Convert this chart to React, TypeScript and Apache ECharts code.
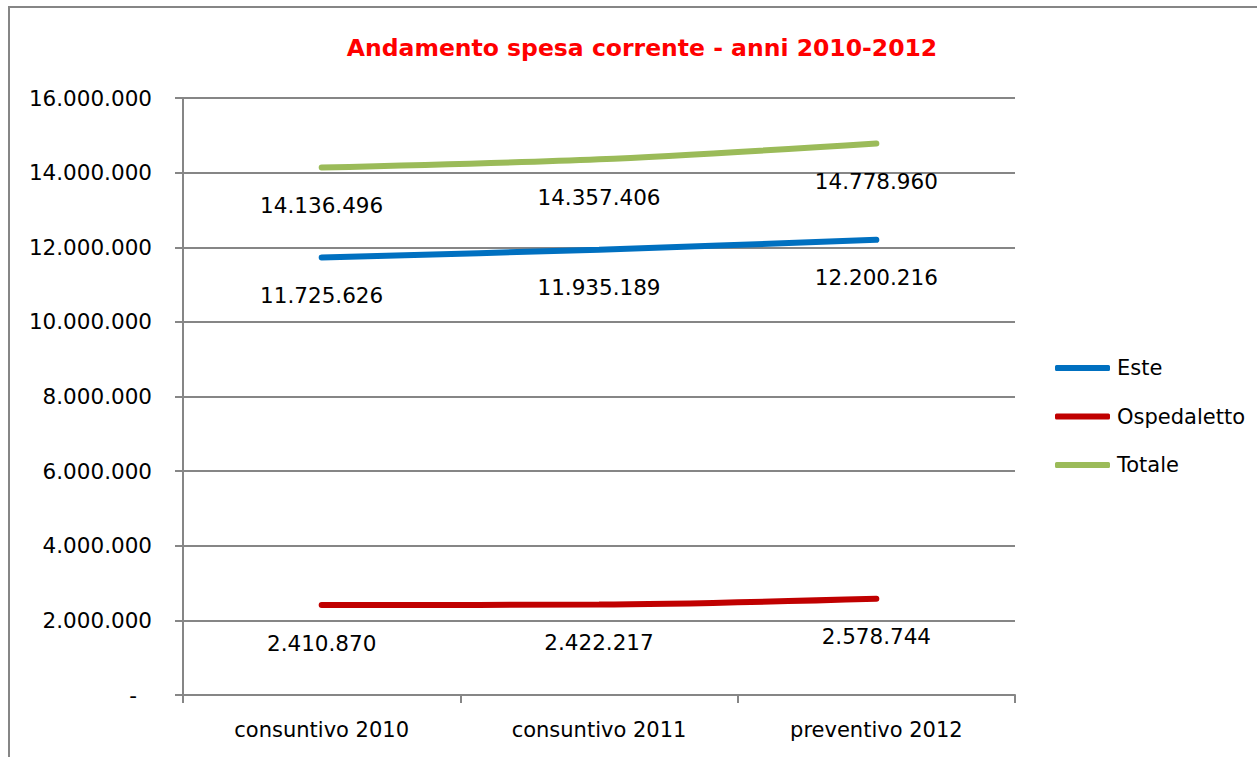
import React, { useEffect, useRef } from "react";
import * as echarts from "echarts";

const categories = ["consuntivo 2010", "consuntivo 2011", "preventivo 2012"];
const este = [11725626, 11935189, 12200216];
const ospedaletto = [2410870, 2422217, 2578744];
const totale = [14136496, 14357406, 14778960];
const seriesNames = ["Este", "Ospedaletto", "Totale"];
const seriesColors = ["#0070C0", "#C00000", "#9BBB59"];
const titleText = "Andamento spesa corrente - anni 2010-2012";

const FONT = "DejaVu Sans";

function fmt(v: number): string {
  return Math.round(v).toString().replace(/\B(?=(\d{3})+(?!\d))/g, ".");
}

export default function App() {
  const ref = useRef<HTMLDivElement>(null);
  useEffect(() => {
    if (!ref.current) return;
    const chart = echarts.init(ref.current, undefined, { renderer: "svg" });
    const data = [este, ospedaletto, totale];
    chart.setOption({
      animation: false,
      backgroundColor: "#ffffff",
      title: {
        text: titleText,
        left: 637,
        textAlign: "center",
        top: 31,
        textStyle: { color: "#FF0000", fontFamily: FONT, fontWeight: "bold", fontSize: 23.5 },
      },
      graphic: [
        {
          type: "rect",
          shape: { x: 9, y: 7, width: 1300, height: 800 },
          style: { fill: "none", stroke: "#868686", lineWidth: 2 },
          silent: true,
          z: 100,
        },
      ],
      legend: {
        orient: "vertical",
        left: 1055,
        top: 356,
        padding: 0,
        itemWidth: 55,
        itemHeight: 6,
        itemGap: 24.5,
        icon: "roundRect",
        data: seriesNames,
        textStyle: { fontFamily: FONT, fontSize: 21, color: "#000", lineHeight: 24, padding: [0, 0, 0, 2] },
      },
      grid: { left: 183, right: 242, top: 98, bottom: 62, containLabel: false },
      xAxis: {
        type: "category",
        data: categories,
        boundaryGap: true,
        axisLine: { lineStyle: { color: "#868686", width: 2 } },
        axisTick: { show: true, length: 8, lineStyle: { color: "#868686", width: 2 } },
        axisLabel: { fontFamily: FONT, fontSize: 21, color: "#000", margin: 24 },
      },
      yAxis: {
        type: "value",
        min: 0,
        max: 16000000,
        interval: 2000000,
        axisLine: { show: true, lineStyle: { color: "#868686", width: 2 } },
        axisTick: { show: true, length: 8, lineStyle: { color: "#868686", width: 2 } },
        splitLine: { show: true, lineStyle: { color: "#868686", width: 2 } },
        axisLabel: {
          fontFamily: FONT,
          fontSize: 21.5,
          color: "#000",
          margin: 31,
          formatter: (v: number) => (v === 0 ? "{dash|-}" : fmt(v)),
          rich: { dash: { fontFamily: FONT, fontSize: 21.5, color: "#000", padding: [0, 15, 0, 0] } },
        },
      },
      series: seriesNames.map((name, i) => ({
        name,
        type: "line",
        data: data[i],
        smooth: 0.3,
        showSymbol: true,
        symbol: "circle",
        symbolSize: 2,
        color: seriesColors[i],
        itemStyle: { color: seriesColors[i] },
        lineStyle: { color: seriesColors[i], width: 6, cap: "round" },
        label: {
          show: true,
          position: "bottom",
          distance: 26,
          fontFamily: FONT,
          fontSize: 21.5,
          color: "#000",
          formatter: (p: any) => fmt(p.value),
        },
      })),
    });
    return () => chart.dispose();
  }, []);
  return (
    <div
      ref={ref}
      style={{ position: "fixed", left: 0, top: 0, width: 1257, height: 757 }}
    />
  );
}
